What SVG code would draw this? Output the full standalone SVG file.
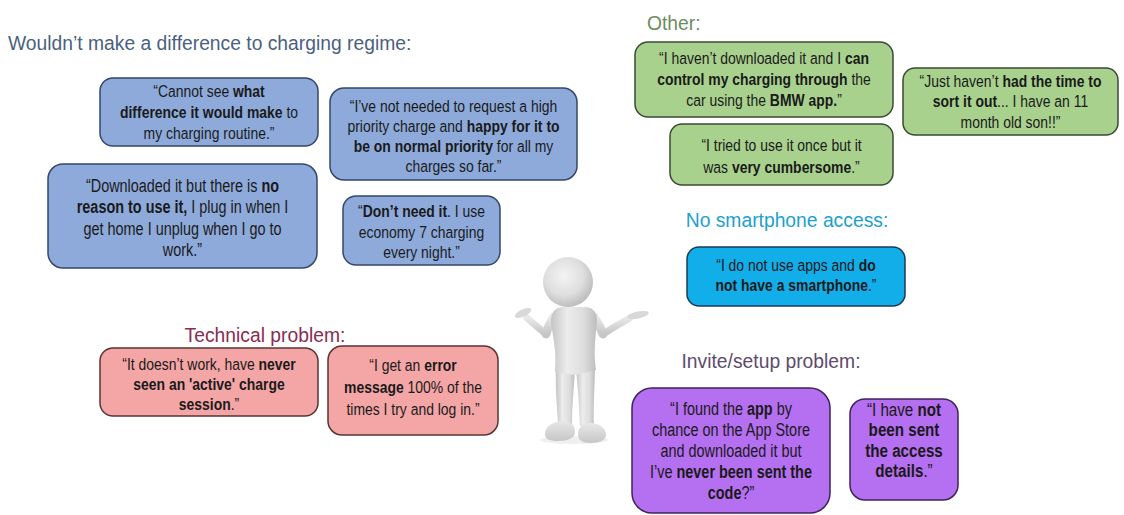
<svg xmlns="http://www.w3.org/2000/svg" width="1124" height="515" viewBox="0 0 1124 515">
  <defs>
    <style>
      .hdr { font-family: "Liberation Sans", Arial, sans-serif; font-size: 19.3px; }
      .q { font-family: "Liberation Sans", Arial, sans-serif; font-size: 17px; fill: #1a1a1a; text-anchor: middle; }
      .b { font-weight: bold; }
      .blue { fill: #8eaadb; stroke: #34476b; stroke-width: 1.5; }
      .pink { fill: #f4a6a6; stroke: #5a3434; stroke-width: 1.5; }
      .green { fill: #a9d18e; stroke: #3b4a33; stroke-width: 1.5; }
      .cyan { fill: #12aeea; stroke: #1c3a55; stroke-width: 1.5; }
      .purple { fill: #b56ff1; stroke: #3e2459; stroke-width: 1.5; }
      .limb { fill: none; stroke: url(#skin); stroke-linecap: round; }
    </style>
    <radialGradient id="headShade" cx="0.42" cy="0.38" r="0.65">
      <stop offset="0" stop-color="#f4f4f4"/>
      <stop offset="0.6" stop-color="#dedede"/>
      <stop offset="1" stop-color="#b9b9b9"/>
    </radialGradient>
    <linearGradient id="bodyShade" x1="0" y1="0" x2="1" y2="0">
      <stop offset="0" stop-color="#c4c4c4"/>
      <stop offset="0.35" stop-color="#ececec"/>
      <stop offset="0.7" stop-color="#dedede"/>
      <stop offset="1" stop-color="#bdbdbd"/>
    </linearGradient>
    <linearGradient id="skin" x1="0" y1="0" x2="0" y2="1">
      <stop offset="0" stop-color="#e8e8e8"/>
      <stop offset="1" stop-color="#c6c6c6"/>
    </linearGradient>
  </defs>

  <rect width="1124" height="515" fill="#ffffff"/>

  <!-- category headings -->
  <g id="headings">
    <text class="hdr" x="8" y="50" fill="#4b5f80">Wouldn’t make a difference to charging regime:</text>
    <text class="hdr" x="265" y="342" fill="#8b2b52" text-anchor="middle">Technical problem:</text>
    <text class="hdr" x="647" y="30" fill="#6d8b5e">Other:</text>
    <text class="hdr" x="787" y="227" fill="#1ba1d0" text-anchor="middle">No smartphone access:</text>
    <text class="hdr" x="771" y="368" fill="#5d4b6e" text-anchor="middle">Invite/setup problem:</text>
  </g>

  <!-- quote text is set in a condensed face: horizontal scale of 0.82 about each box centre -->

  <!-- Wouldn't make a difference -->
  <g id="q-cannot-see">
    <rect class="blue" x="100" y="78" width="218" height="68" rx="13"/>
    <g transform="translate(209 0) scale(0.82 1)">
      <text class="q" x="0" y="97">“Cannot see <tspan class="b">what</tspan></text>
      <text class="q" x="0" y="118"><tspan class="b">difference it would make</tspan> to</text>
      <text class="q" x="0" y="139">my charging routine.”</text>
    </g>
  </g>
  <g id="q-normal-priority">
    <rect class="blue" x="330" y="88" width="247" height="92" rx="14"/>
    <g transform="translate(453.5 0) scale(0.82 1)">
      <text class="q" x="0" y="112">“I’ve not needed to request a high</text>
      <text class="q" x="0" y="132">priority charge and <tspan class="b">happy for it to</tspan></text>
      <text class="q" x="0" y="152"><tspan class="b">be on normal priority</tspan> for all my</text>
      <text class="q" x="0" y="172">charges so far.”</text>
    </g>
  </g>
  <g id="q-no-reason">
    <rect class="blue" x="48" y="164" width="269" height="104" rx="15"/>
    <g transform="translate(182.5 0) scale(0.82 1)" style="font-size:17.6px">
      <text class="q" x="0" y="192" style="font-size:17.6px">“Downloaded it but there is <tspan class="b">no</tspan></text>
      <text class="q" x="0" y="213.5" style="font-size:17.6px"><tspan class="b">reason to use it,</tspan> I plug in when I</text>
      <text class="q" x="0" y="235" style="font-size:17.6px">get home I unplug when I go to</text>
      <text class="q" x="0" y="256.5" style="font-size:17.6px">work.”</text>
    </g>
  </g>
  <g id="q-dont-need">
    <rect class="blue" x="343" y="196" width="157" height="69" rx="13"/>
    <g transform="translate(421.5 0) scale(0.82 1)">
      <text class="q" x="0" y="217">“<tspan class="b">Don’t need it</tspan>. I use</text>
      <text class="q" x="0" y="238">economy 7 charging</text>
      <text class="q" x="0" y="258">every night.”</text>
    </g>
  </g>

  <!-- Technical problem -->
  <g id="q-never-active">
    <rect class="pink" x="100" y="348" width="218" height="68" rx="13"/>
    <g transform="translate(209 0) scale(0.82 1)">
      <text class="q" x="0" y="370">“It doesn’t work, have <tspan class="b">never</tspan></text>
      <text class="q" x="0" y="390"><tspan class="b">seen an 'active' charge</tspan></text>
      <text class="q" x="0" y="410"><tspan class="b">session</tspan>.”</text>
    </g>
  </g>
  <g id="q-error-message">
    <rect class="pink" x="328" y="346" width="170" height="89" rx="14"/>
    <g transform="translate(413 0) scale(0.82 1)">
      <text class="q" x="0" y="371">“I get an <tspan class="b">error</tspan></text>
      <text class="q" x="0" y="393"><tspan class="b">message</tspan> 100% of the</text>
      <text class="q" x="0" y="415">times I try and log in.”</text>
    </g>
  </g>

  <!-- Other -->
  <g id="q-bmw-app">
    <rect class="green" x="635" y="42" width="258" height="75" rx="13"/>
    <g transform="translate(764 0) scale(0.82 1)">
      <text class="q" x="0" y="64">“I haven’t downloaded it and I <tspan class="b">can</tspan></text>
      <text class="q" x="0" y="85"><tspan class="b">control my charging through</tspan> the</text>
      <text class="q" x="0" y="106">car using the <tspan class="b">BMW app.</tspan>”</text>
    </g>
  </g>
  <g id="q-cumbersome">
    <rect class="green" x="670" y="124" width="223" height="61" rx="12"/>
    <g transform="translate(781.5 0) scale(0.82 1)">
      <text class="q" x="0" y="151">“I tried to use it once but it</text>
      <text class="q" x="0" y="173">was <tspan class="b">very cumbersome</tspan>.”</text>
    </g>
  </g>
  <g id="q-no-time">
    <rect class="green" x="903" y="68" width="215" height="67" rx="12"/>
    <g transform="translate(1010.5 0) scale(0.82 1)">
      <text class="q" x="0" y="87">“Just haven’t <tspan class="b">had the time to</tspan></text>
      <text class="q" x="0" y="107"><tspan class="b">sort it out</tspan>... I have an 11</text>
      <text class="q" x="0" y="128">month old son!!”</text>
    </g>
  </g>

  <!-- No smartphone access -->
  <g id="q-no-smartphone">
    <rect class="cyan" x="687" y="247" width="218" height="59" rx="12"/>
    <g transform="translate(796 0) scale(0.82 1)">
      <text class="q" x="0" y="271">“I do not use apps and <tspan class="b">do</tspan></text>
      <text class="q" x="0" y="291"><tspan class="b">not have a smartphone</tspan>.”</text>
    </g>
  </g>

  <!-- Invite/setup problem -->
  <g id="q-never-sent-code">
    <rect class="purple" x="632" y="388" width="198" height="125" rx="20"/>
    <g transform="translate(731 0) scale(0.82 1)">
      <text class="q" x="0" y="415" style="font-size:17.6px">“I found the <tspan class="b">app</tspan> by</text>
      <text class="q" x="0" y="436.5" style="font-size:17.6px">chance on the App Store</text>
      <text class="q" x="0" y="457.5" style="font-size:17.6px">and downloaded it but</text>
      <text class="q" x="0" y="478.5" style="font-size:17.6px">I’ve <tspan class="b">never been sent the</tspan></text>
      <text class="q" x="0" y="499.5" style="font-size:17.6px"><tspan class="b">code</tspan>?”</text>
    </g>
  </g>
  <g id="q-access-details">
    <rect class="purple" x="850" y="399" width="108" height="101" rx="15"/>
    <g transform="translate(904 0) scale(0.82 1)">
      <text class="q" x="0" y="416" style="font-size:18.5px">“I have <tspan class="b">not</tspan></text>
      <text class="q" x="0" y="436.5" style="font-size:18.5px"><tspan class="b">been sent</tspan></text>
      <text class="q" x="0" y="457" style="font-size:18.5px"><tspan class="b">the access</tspan></text>
      <text class="q" x="0" y="477.5" style="font-size:18.5px"><tspan class="b">details</tspan>.”</text>
    </g>
  </g>

  <!-- shrugging figure -->
  <g id="figure">
    <ellipse cx="574" cy="440" rx="34" ry="4" fill="#e6e6e6" opacity="0.6"/>
    <!-- legs -->
    <path d="M556,362 C555,388 557,405 558,424 L572,424 C572,405 574,388 575,370 Z" fill="url(#bodyShade)"/>
    <path d="M576,370 C578,388 579,405 580,426 L594,426 C593,405 595,388 595,362 Z" fill="url(#bodyShade)"/>
    <path d="M545,434 C545,425 555,421 564,421 C571,421 575,426 575,432 C575,438 568,441 558,441 C549,441 545,439 545,434 Z" fill="url(#skin)"/>
    <path d="M578,434 C578,427 583,423 591,423 C599,423 606,428 606,435 C606,440 599,443 591,443 C582,443 578,440 578,434 Z" fill="url(#skin)"/>
    <!-- arms -->
    <path class="limb" d="M554,317 Q548,326 546,334" stroke-width="9"/>
    <path class="limb" d="M546,334 Q536,326 527,318" stroke-width="7"/>
    <path class="limb" d="M594,317 Q600,326 603,334" stroke-width="9"/>
    <path class="limb" d="M603,334 Q617,325 630,318" stroke-width="7"/>
    <ellipse cx="523" cy="313" rx="9" ry="3.5" transform="rotate(-25 523 313)" fill="#d8d8d8"/>
    <ellipse cx="638" cy="315" rx="11" ry="3.5" transform="rotate(-12 638 315)" fill="#d8d8d8"/>
    <!-- torso -->
    <path d="M561,307 Q551,309 551,320 C552,335 557,348 555,372 L575,375 L596,370 C593,350 596,336 597,320 Q597,309 587,307 Z" fill="url(#bodyShade)"/>
    <!-- head -->
    <circle cx="568" cy="282" r="25" fill="url(#headShade)"/>
  </g>
</svg>
